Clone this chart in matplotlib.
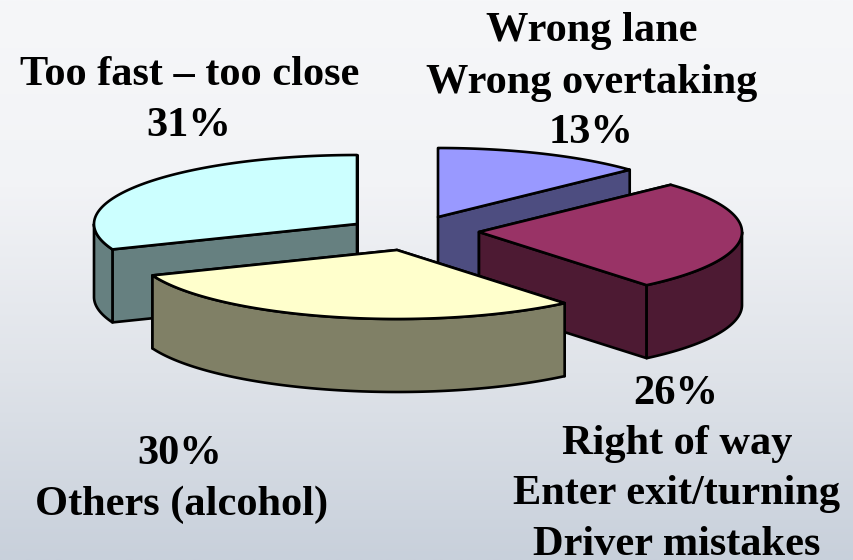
import numpy as np
import matplotlib
matplotlib.use("Agg")
import matplotlib.pyplot as plt
from matplotlib.colors import LinearSegmentedColormap
from matplotlib.patches import Polygon

# Data
categories = ["Wrong lane / Wrong overtaking", "Right of way / Enter exit/turning / Driver mistakes",
              "Others (alcohol)", "Too fast \u2013 too close"]
values = [13, 26, 30, 31]

# Style
top_colors = ["#9999FF", "#993366", "#FFFFCC", "#CCFFFF"]
side_colors = ["#4D4D80", "#4D1A33", "#808066", "#668080"]
centers = [(438, 217), (479, 232), (397, 250), (357, 224)]
draw_order = [3, 0, 1, 2]
RX, RY, DEPTH = 263, 69, 73

fig = plt.figure(figsize=(8.54, 5.60), dpi=100)
ax = fig.add_axes([0, 0, 1, 1])
ax.set_xlim(0, 854)
ax.set_ylim(560, 0)
ax.axis("off")

cmap = LinearSegmentedColormap.from_list("bg", ["#F6F7F9", "#F2F3F6", "#DFE3E9", "#C8D0DB"], N=256)
ax.imshow(np.linspace(0, 1, 256).reshape(-1, 1), cmap=cmap, aspect="auto",
          extent=(0, 854, 560, 0), zorder=0)


def pt(c, th):
    return c[0] + RX * np.sin(th), c[1] - RY * np.cos(th)


def poly(xy, color, z):
    ax.add_patch(Polygon(xy, closed=True, facecolor=color, edgecolor="black",
                         linewidth=1.9, joinstyle="round", zorder=z))


edges = np.radians(np.concatenate([[0], np.cumsum(values)]) / sum(values) * 360)
z = 1
for i in draw_order:
    c = centers[i]
    a0, a1 = edges[i], edges[i + 1]
    # radial cut faces
    for a in (a0, a1):
        x, y = pt(c, a)
        poly([c, (x, y), (x, y + DEPTH), (c[0], c[1] + DEPTH)], side_colors[i], z)
        z += 1
    # outer wall, front half only
    lo, hi = max(a0, np.pi / 2), min(a1, 3 * np.pi / 2)
    if hi > lo:
        th = np.linspace(lo, hi, 120)
        xs, ys = pt(c, th)
        wall = np.r_[np.c_[xs, ys], np.c_[xs, ys + DEPTH][::-1]]
        poly(wall, side_colors[i], z)
        z += 1
    # top face
    th = np.linspace(a0, a1, 160)
    xs, ys = pt(c, th)
    poly(np.r_[[c], np.c_[xs, ys]], top_colors[i], z)
    z += 1

font = dict(family="Liberation Serif", fontweight="bold", fontsize=30.5,
            ha="center", va="center", color="black", zorder=z + 1)
labels = [
    (190, 75, "Too fast \u2013 too close"),
    (189, 126, "31%"),
    (592, 31, "Wrong lane"),
    (592, 83, "Wrong overtaking"),
    (591, 133, "13%"),
    (676, 394, "26%"),
    (677, 444, "Right of way"),
    (677, 494, "Enter exit/turning"),
    (677, 545, "Driver mistakes"),
    (180, 454, "30%"),
    (182, 505, "Others (alcohol)"),
]
for x, y, s in labels:
    ax.text(x, y, s, **font)

fig.savefig("out.png", dpi=100)
